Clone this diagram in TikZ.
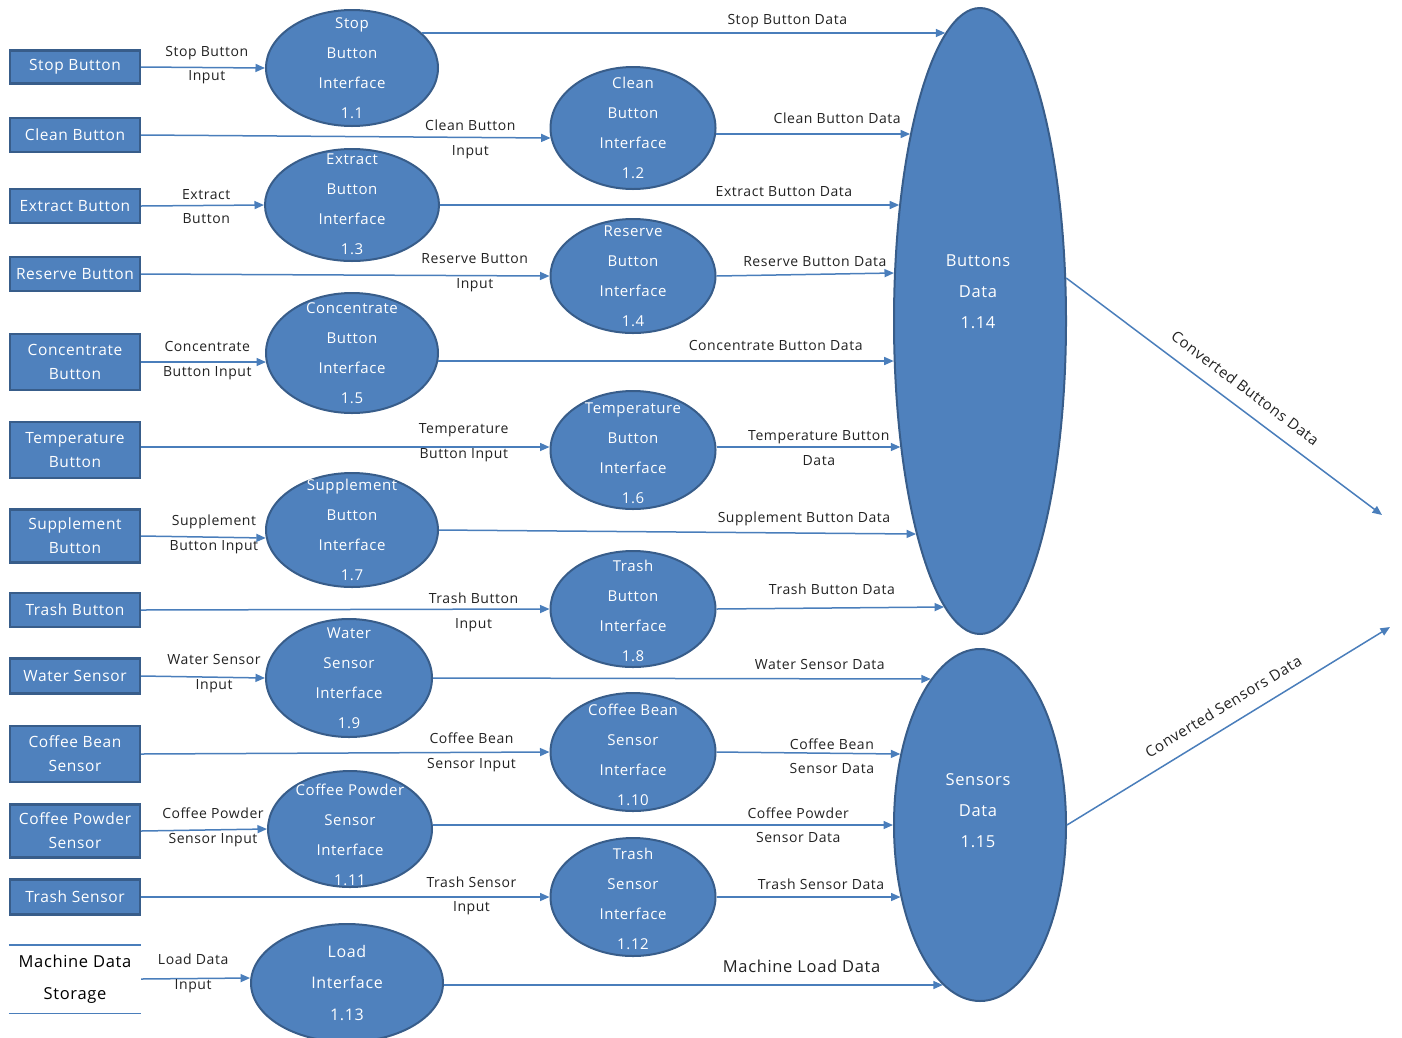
\documentclass[tikz,border=0pt]{standalone}
\usepackage{fontspec}
\setmainfont{Open Sans}[LetterSpace=4.0]
\usetikzlibrary{arrows.meta,shapes.geometric,calc}
\definecolor{fillblue}{HTML}{4F81BD}
\definecolor{edgeblue}{HTML}{385D8A}
\definecolor{arrowblue}{HTML}{4A7EBB}
\definecolor{labgray}{HTML}{222222}
\begin{document}
\begin{tikzpicture}[x=1pt,y=-1pt,
  srcbox/.style={rectangle, fill=fillblue, draw=edgeblue, line width=2.2pt, minimum width=130pt, text=white, align=center, inner sep=0pt, font=\fontsize{15.5}{24}\selectfont},
  proc/.style={ellipse, fill=fillblue, draw=edgeblue, line width=2pt, inner sep=0pt},
  ptext/.style={text=white, align=center, font=\fontsize{15}{30}\selectfont, inner sep=0pt},
  bigtext/.style={text=white, align=center, font=\fontsize{16.5}{31}\selectfont, inner sep=0pt},
  flow/.style={draw=arrowblue, line width=1.5pt, -{Triangle[length=9.5pt,width=8pt]}},
  lab/.style={text=labgray, align=center, font=\fontsize{14}{24.5}\selectfont, inner sep=0pt},
  storetext/.style={text=black, align=center, font=\fontsize{16.5}{32}\selectfont, minimum width=132pt, minimum height=68pt, inner sep=0pt},
  storeline/.style={draw=arrowblue, line width=1.4pt},
]
\useasboundingbox (0,0) rectangle (1402,1037);

% source boxes
\node[srcbox, minimum height=33pt] (b1) at (75,67) {Stop Button};
\node[srcbox, minimum height=34pt] (b2) at (75,135) {Clean Button};
\node[srcbox, minimum height=34pt] (b3) at (75,206) {Extract Button};
\node[srcbox, minimum height=34pt] (b4) at (75,274) {Reserve Button};
\node[srcbox, minimum height=56pt] (b5) at (75,362) {Concentrate\\Button};
\node[srcbox, minimum height=56pt] (b6) at (75,450) {Temperature\\Button};
\node[srcbox, minimum height=53pt] (b7) at (75,536) {Supplement\\Button};
\node[srcbox, minimum height=34pt] (b8) at (75,610) {Trash Button};
\node[srcbox, minimum height=35pt] (b9) at (75,676) {Water Sensor};
\node[srcbox, minimum height=56pt] (b10) at (75,754) {Coffee Bean\\Sensor};
\node[srcbox, minimum height=53pt] (b11) at (75,831) {Coffee Powder\\Sensor};
\node[srcbox, minimum height=35pt] (b12) at (75,897) {Trash Sensor};
\node[storetext] (st) at (75,979) {Machine Data\\Storage};
\draw[storeline] (st.north west) -- (st.north east);
\draw[storeline] (st.south west) -- (st.south east);

% process ellipses
\node[proc, minimum width=172pt, minimum height=116pt] (e1) at (352,68) {};
\node[proc, minimum width=165pt, minimum height=122pt] (c2) at (633,128) {};
\node[proc, minimum width=174pt, minimum height=112pt] (e3) at (352,205) {};
\node[proc, minimum width=165pt, minimum height=114pt] (c4) at (633,276) {};
\node[proc, minimum width=172pt, minimum height=120pt] (e5) at (352,353) {};
\node[proc, minimum width=165pt, minimum height=118pt] (c6) at (633,450) {};
\node[proc, minimum width=172pt, minimum height=114pt] (e7) at (352,530) {};
\node[proc, minimum width=165pt, minimum height=116pt] (c8) at (633,609) {};
\node[proc, minimum width=166pt, minimum height=118pt] (e9) at (349,678) {};
\node[proc, minimum width=165pt, minimum height=118pt] (c10) at (633,752) {};
\node[proc, minimum width=164pt, minimum height=116pt] (e11) at (350,829) {};
\node[proc, minimum width=165pt, minimum height=118pt] (c12) at (633,897) {};
\node[proc, minimum width=192pt, minimum height=118pt] (e13) at (347,983) {};
\node[proc, minimum width=172pt, minimum height=626pt] (bd) at (980,321) {};
\node[proc, minimum width=172pt, minimum height=352pt] (sd) at (980,825) {};

\node[ptext] (t1) at (e1.center) {Stop\\Button\\Interface\\1.1};
\node[ptext] (t2) at (c2.center) {Clean\\Button\\Interface\\1.2};
\node[ptext] (t3) at ([yshift=1pt]e3.center) {Extract\\Button\\Interface\\1.3};
\node[ptext] (t4) at (c4.center) {Reserve\\Button\\Interface\\1.4};
\node[ptext] (t5) at (e5.center) {Concentrate\\Button\\Interface\\1.5};
\node[ptext] (t6) at ([yshift=-3.5pt]c6.center) {Temperature\\Button\\Interface\\1.6};
\node[ptext] (t7) at (e7.center) {Supplement\\Button\\Interface\\1.7};
\node[ptext] (t8) at ([yshift=-2pt]c8.center) {Trash\\Button\\Interface\\1.8};
\node[ptext] (t9) at (e9.center) {Water\\Sensor\\Interface\\1.9};
\node[ptext] (t10) at ([yshift=-3pt]c10.center) {Coffee Bean\\Sensor\\Interface\\1.10};
\node[ptext] (t11) at ([yshift=-6pt]e11.center) {Coffee Powder\\Sensor\\Interface\\1.11};
\node[ptext] (t12) at ([yshift=-1.5pt]c12.center) {Trash\\Sensor\\Interface\\1.12};
\node[ptext, font=\fontsize{16}{31.5}\selectfont] (t13) at (e13.center) {Load\\Interface\\1.13};
\node[bigtext] (t14) at (978,292) {Buttons\\Data\\1.14};
\node[bigtext] (t15) at (978,811) {Sensors\\Data\\1.15};

\coordinate (cb) at (1382,515);
\coordinate (cs) at (1390,627);

% flows
\draw[flow] (b1.east) -- node[lab,pos=0.53,yshift=2.5pt]{Stop Button\\Input} (e1.west);
\draw[flow] ($(e1.center)+(70,-35)$) -- node[lab,pos=0.698,yshift=12pt]{Stop Button Data} ($(bd.center)+(-34.7,-288)$);
\draw[flow] (b2.east) -- node[lab,pos=0.804,yshift=-2pt]{Clean Button\\Input} ($(c2.center)+(-82.4,10)$);
\draw[flow] ($(c2.center)+(83.1,6)$) -- node[lab,pos=0.624,yshift=16pt]{Clean Button Data} ($(bd.center)+(-69.9,-187)$);
\draw[flow] (b3.east) -- node[lab,pos=0.53,yshift=-1pt]{Extract\\Button} (e3.west);
\draw[flow] (e3.east) -- node[lab,pos=0.749,yshift=13pt]{Extract Button Data} ($(bd.center)+(-80.8,-116)$);
\draw[flow] (b4.east) -- node[lab,pos=0.817,yshift=3pt]{Reserve Button\\Input} (c4.west);
\draw[flow] (c4.east) -- node[lab,pos=0.554,yshift=13pt]{Reserve Button Data} ($(bd.center)+(-86,-48)$);
\draw[flow] (b5.east) -- node[lab,pos=0.53,yshift=1.5pt]{Concentrate\\Button Input} ($(e5.center)+(-86,9)$);
\draw[flow] ($(e5.center)+(86.1,8)$) -- node[lab,pos=0.741,yshift=16pt]{Concentrate Button Data} ($(bd.center)+(-86.3,40)$);
\draw[flow] ([yshift=3pt]b6.east) -- node[lab,pos=0.79,yshift=4.5pt]{Temperature\\Button Input} ([yshift=3pt]c6.west);
\draw[flow] ([yshift=3pt]c6.east) -- node[lab,pos=0.557,yshift=-1pt]{Temperature Button\\Data} ($(bd.center)+(-79.7,126)$);
\draw[flow] (b7.east) -- node[lab,pos=0.584,yshift=3pt]{Supplement\\Button Input} ($(e7.center)+(-86.2,8)$);
\draw[flow] (e7.east) -- node[lab,pos=0.765,yshift=14pt]{Supplement Button Data} ($(bd.center)+(-63.9,213)$);
\draw[flow] (b8.east) -- node[lab,pos=0.814,yshift=-3.3pt]{Trash Button\\Input} (c8.west);
\draw[flow] (c8.east) -- node[lab,pos=0.507,yshift=19pt]{Trash Button Data} ($(bd.center)+(-35.9,286)$);
\draw[flow] (b9.east) -- node[lab,pos=0.589,yshift=3.5pt]{Water Sensor\\Input} (e9.west);
\draw[flow] (e9.east) -- node[lab,pos=0.777,yshift=14pt]{Water Sensor Data} ($(sd.center)+(-49.2,-146)$);
\draw[flow] (b10.east) -- node[lab,pos=0.809]{Coffee Bean\\Sensor Input} (c10.west);
\draw[flow] (c10.east) -- node[lab,pos=0.628,yshift=-3pt]{Coffee Bean\\Sensor Data} ($(sd.center)+(-79.7,-71)$);
\draw[flow] (b11.east) -- node[lab,pos=0.571,yshift=2.5pt]{Coffee Powder\\Sensor Input} (e11.west);
\draw[flow] ($(e11.center)+(82.9,-4)$) -- node[lab,pos=0.794]{Coffee Powder\\Sensor Data} (sd.west);
\draw[flow] (b12.east) -- node[lab,pos=0.809,yshift=1pt]{Trash Sensor\\Input} (c12.west);
\draw[flow] (c12.east) -- node[lab,pos=0.568,yshift=13pt]{Trash Sensor Data} ($(sd.center)+(-79.5,72)$);
\draw[flow] (st.east) -- node[lab,pos=0.477,yshift=5pt]{Load Data\\Input} ($(e13.center)+(-96.9,-5)$);
\draw[flow] ($(e13.center)+(97,2)$) -- node[lab,pos=0.717,yshift=19pt,font=\fontsize{16.5}{20}\selectfont]{Machine Load Data} ($(sd.center)+(-37.2,160)$);
\draw[flow] ($(bd.center)+(86.2,-43)$) -- node[lab,pos=0.53,sloped,above=13pt,font=\fontsize{15}{18}\selectfont]{Converted Buttons Data} (cb);
\draw[flow] (sd.east) -- node[lab,pos=0.515,sloped,above=13pt,font=\fontsize{15}{18}\selectfont]{Converted Sensors Data} (cs);
\end{tikzpicture}
\end{document}
